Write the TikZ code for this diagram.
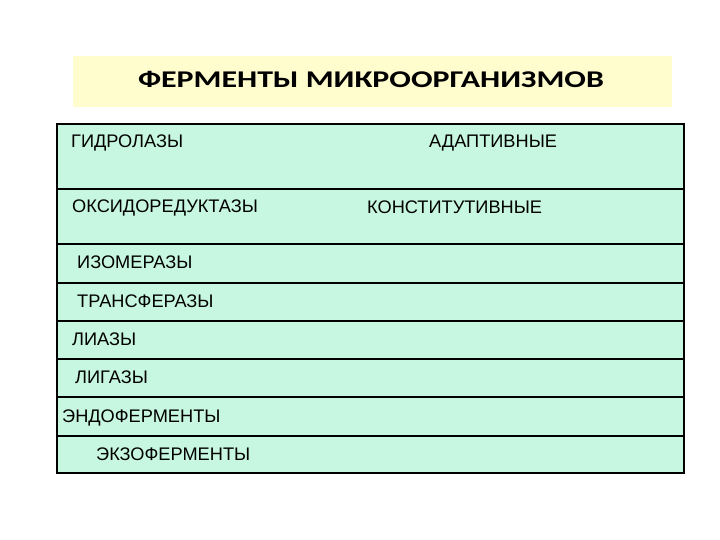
\documentclass[tikz,border=0pt]{standalone}
\usepackage{fontspec}
\setmainfont{Liberation Sans}
\newfontfamily\titlefont{Carlito}
\definecolor{mint}{RGB}{199,247,224}
\definecolor{paleyellow}{RGB}{255,252,206}
\begin{document}
\begin{tikzpicture}[x=1pt,y=-1pt,
  cell/.style={anchor=base west,inner sep=0pt,font=\fontsize{18.2}{21}\selectfont},
  rule/.style={line width=2.4pt,black}]
\useasboundingbox (0,0) rectangle (720,540);
% title
\fill[paleyellow] (73,56) rectangle (672,107);
\node[anchor=base,inner sep=0pt,font=\titlefont\bfseries\fontsize{24}{30}\selectfont] (title) at (371,88) {\scalebox{1.33}[1]{ФЕРМЕНТЫ МИКРООРГАНИЗМОВ}};
% table
\fill[mint] (57,124) rectangle (684,473);
\foreach \y in {189,244,283,321,359,397,436}{\draw[rule] (57,\y) -- (684,\y);}
\draw[rule] (57,124) rectangle (684,473);
% cells
\node[cell] (c1) at (71,148) {ГИДРОЛАЗЫ};
\node[cell] (c2) at (72,212) {ОКСИДОРЕДУКТАЗЫ};
\node[cell] (c3) at (77,268) {ИЗОМЕРАЗЫ};
\node[cell] (c4) at (77,307) {ТРАНСФЕРАЗЫ};
\node[cell] (c5) at (72,345) {ЛИАЗЫ};
\node[cell] (c6) at (75,383) {ЛИГАЗЫ};
\node[cell] (c7) at (62,422) {ЭНДОФЕРМЕНТЫ};
\node[cell] (c8) at (96,460) {ЭКЗОФЕРМЕНТЫ};
\node[cell] (d1) at (429,148) {АДАПТИВНЫЕ};
\node[cell] (d2) at (367,214) {КОНСТИТУТИВНЫЕ};
\end{tikzpicture}
\end{document}
